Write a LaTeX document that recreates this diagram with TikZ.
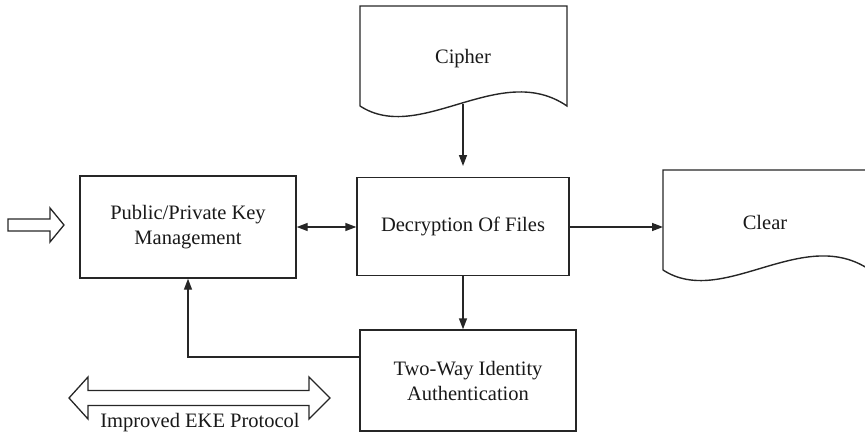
\documentclass[tikz,border=0pt]{standalone}
\usepackage{fontspec}
\setmainfont{Liberation Serif}
\usetikzlibrary{arrows.meta}
\begin{document}
\begin{tikzpicture}[x=1pt,y=-1pt,
  line/.style={line width=1.4pt, draw=black!85},
  arr/.style={line, -{Triangle[length=11pt,width=8pt]}},
  darr/.style={line, {Triangle[length=11pt,width=8pt]}-{Triangle[length=11pt,width=8pt]}},
  lbl/.style={font=\fontsize{20.5}{25}\selectfont, align=center, text=black!90}]
\useasboundingbox (0,0) rectangle (865,436);
\clip (0,0) rectangle (865,436);
% boxes
\node[line, rectangle, minimum width=216pt, minimum height=102pt, lbl] (pk) at (188,227) {Public/Private Key\\Management};
\node[line, rectangle, minimum width=212pt, minimum height=98pt, lbl] (dec) at (463,226.5) {Decryption Of Files};
\node[line, rectangle, minimum width=216pt, minimum height=101pt, lbl] (tw) at (468,380.5) {Two-Way Identity\\Authentication};
% documents
\draw[line] (360,106) -- (360,6) -- (567,6) -- (567,106) .. controls (500,60) and (420,145) .. (360,106);
\node[lbl] (ci) at (463,59) {Cipher};
\coordinate (cib) at (463,104);
\draw[line] (663,270) -- (663,170) -- (870,170) -- (870,270) .. controls (803,224) and (723,309) .. (663,270);
\node[lbl] (cl) at (765,222) {Clear};
\coordinate (clw) at (663,227);
% connectors
\draw[arr] (cib) -- (463,166);
\draw[darr] (pk.east |- 0,227) -- (dec.west |- 0,227);
\draw[arr] (dec.east |- 0,227) -- (clw);
\draw[arr] (dec.south) -- (dec.south |- tw.north);
\coordinate (bend) at (188,357);
\draw[arr] (tw.west |- bend) -- (bend) -- (pk.south);
% hollow arrows
\draw[line, line width=1.3pt] (8,219) -- (50,219) -- (50,208) -- (64,225) -- (50,242) -- (50,231) -- (8,231) -- cycle;
\draw[line, line width=1.3pt] (69,398) -- (88,377) -- (88,390.5) -- (309,390.5) -- (309,377) -- (330,398) -- (309,419) -- (309,405.5) -- (88,405.5) -- (88,419) -- cycle;
\node[lbl] (eke) at (200,423) {Improved EKE Protocol};
\end{tikzpicture}
\end{document}
